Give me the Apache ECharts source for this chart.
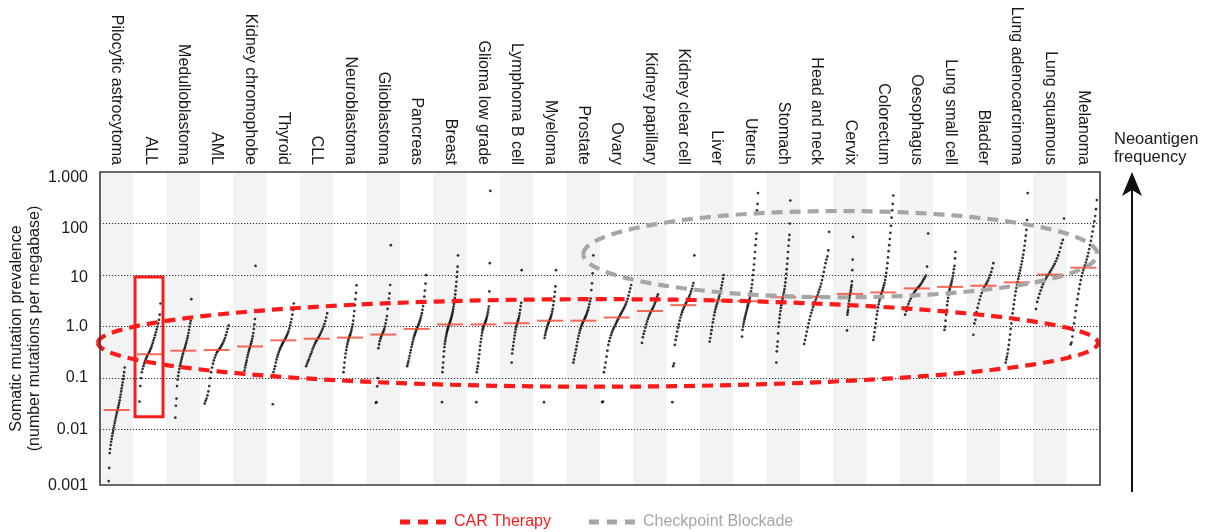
<!DOCTYPE html>
<html><head><meta charset="utf-8">
<script src="https://cdn.jsdelivr.net/npm/echarts@6/dist/echarts.min.js"></script>
<style>html,body{margin:0;padding:0;background:#fff}#c{width:1209px;height:532px}</style>
</head><body><div id="c"></div>
<script>
const categories = ['Pilocytic astrocytoma','ALL','Medulloblastoma','AML','Kidney chromophobe','Thyroid','CLL','Neuroblastoma','Glioblastoma','Pancreas','Breast','Glioma low grade','Lymphoma B cell','Myeloma','Prostate','Ovary','Kidney papillary','Kidney clear cell','Liver','Uterus','Stomach','Head and neck','Cervix','Colorectum','Oesophagus','Lung small cell','Bladder','Lung adenocarcinoma','Lung squamous','Melanoma'];
const medians = [0.024,0.29,0.34,0.35,0.41,0.54,0.58,0.61,0.7,0.9,1.1,1.1,1.16,1.3,1.3,1.5,2.0,2.6,3.2,3.1,3.7,3.8,4.3,4.6,5.5,5.9,6.2,7.2,10.2,13.9];
const yTickLabels = ['0.001','0.01','0.1','1.0','10','100','1.000'];
const legendNames = ['CAR Therapy','Checkpoint Blockade'];

const pilocytic = [0.001,0.0018,0.0035,0.0042,0.005,0.0058,0.0066,0.0075,0.0085,0.0095,0.0107,0.012,0.0135,0.015,0.0167,0.0185,0.0205,0.0225,0.0245,0.027,0.03,0.033,0.037,0.042,0.048,0.055,0.063,0.072,0.082,0.095,0.11,0.13,0.16];
const all = [0.035,0.07,0.1,0.13,0.15,0.17,0.19,0.21,0.23,0.25,0.27,0.29,0.31,0.33,0.36,0.39,0.43,0.48,0.54,0.6,0.68,0.77,0.88,1.0,1.15,1.35,1.7,2.8];
const medulloblastoma = [0.017,0.029,0.04,0.07,0.093,0.11,0.13,0.15,0.17,0.19,0.21,0.235,0.26,0.29,0.32,0.345,0.37,0.4,0.44,0.48,0.53,0.59,0.66,0.75,0.86,1.0,1.15,1.3,3.4];
const aml = [0.032,0.036,0.04,0.046,0.055,0.07,0.1,0.13,0.16,0.19,0.22,0.25,0.28,0.31,0.33,0.35,0.37,0.39,0.42,0.45,0.49,0.54,0.6,0.68,0.78,0.9,1.05];
const kidneyChromophobe = [0.14,0.16,0.18,0.2,0.22,0.25,0.28,0.31,0.34,0.37,0.4,0.43,0.47,0.52,0.58,0.65,0.75,0.9,1.1,1.4,15];
const thyroid = [0.031,0.13,0.15,0.17,0.2,0.23,0.26,0.29,0.32,0.35,0.38,0.41,0.44,0.47,0.5,0.53,0.56,0.6,0.64,0.69,0.75,0.82,0.92,1.05,1.2,1.4,1.7,2.1,2.8];
const cll = [0.17,0.19,0.21,0.23,0.26,0.29,0.32,0.36,0.4,0.44,0.48,0.52,0.56,0.6,0.64,0.69,0.75,0.82,0.9,1.0,1.12,1.28,1.5,1.8];
const neuroblastoma = [0.13,0.16,0.2,0.25,0.3,0.35,0.4,0.45,0.5,0.55,0.6,0.64,0.68,0.73,0.8,0.88,0.98,1.1,1.3,1.6,2.0,2.6,3.4,4.5,6.3];
const glioblastoma = [0.033,0.034,0.069,0.1,0.38,0.45,0.52,0.58,0.63,0.68,0.72,0.77,0.83,0.9,1.0,1.15,1.35,1.6,2.2,2.8,3.5,4.4,6.4,38];
const pancreas = [0.17,0.19,0.21,0.24,0.27,0.31,0.35,0.4,0.45,0.5,0.56,0.62,0.68,0.74,0.8,0.86,0.92,0.98,1.05,1.13,1.22,1.33,1.46,1.62,1.82,2.1,2.5,3.0,3.8,5.0,6.8,10];
const breast = [0.034,0.13,0.16,0.2,0.26,0.33,0.4,0.46,0.52,0.58,0.64,0.7,0.76,0.82,0.88,0.94,1.0,1.05,1.1,1.16,1.22,1.29,1.37,1.46,1.56,1.68,1.82,2.0,2.2,2.45,2.75,3.1,3.6,4.2,5.0,6.0,7.4,9.2,11.5,14.5,24];
const gliomaLowGrade = [0.034,0.13,0.15,0.17,0.2,0.24,0.29,0.35,0.42,0.5,0.58,0.67,0.76,0.85,0.93,1.0,1.06,1.12,1.18,1.25,1.33,1.43,1.55,1.7,1.9,2.15,2.45,4.8,17,430];
const lymphomaB = [0.2,0.3,0.36,0.42,0.5,0.58,0.67,0.77,0.88,0.98,1.08,1.16,1.24,1.33,1.45,1.6,1.8,2.1,2.5,2.9,12.4];
const myeloma = [0.034,0.6,0.68,0.76,0.84,0.92,1.0,1.08,1.16,1.24,1.3,1.38,1.48,1.6,1.75,1.95,2.2,2.6,3.1,3.8,4.7,6.0,12.4];
const prostate = [0.2,0.23,0.27,0.31,0.36,0.42,0.5,0.58,0.66,0.75,0.84,0.93,1.02,1.1,1.18,1.26,1.34,1.42,1.52,1.63,1.76,1.92,2.1,2.35,2.7,3.1,3.5,5.1,6.9,10.8,24];
const ovary = [0.034,0.035,0.13,0.16,0.2,0.26,0.34,0.44,0.52,0.6,0.68,0.76,0.84,0.92,1.0,1.08,1.17,1.27,1.38,1.5,1.62,1.74,1.87,2.0,2.15,2.32,2.52,2.75,3.05,3.45,4.0,4.7,5.5,6.4];
const kidneyPapillary = [0.48,0.62,0.72,0.82,0.95,1.1,1.25,1.4,1.55,1.7,1.85,2.0,2.15,2.3,2.5,2.75,3.0,3.4,3.8,4.2];
const kidneyClearCell = [0.034,0.17,0.19,0.44,0.55,0.65,0.8,0.95,1.1,1.3,1.5,1.7,1.9,2.1,2.3,2.5,2.7,2.9,3.1,3.35,3.6,3.9,4.3,4.8,5.4,6.2,7.0,24];
const liver = [0.51,0.6,0.72,0.85,1.0,1.2,1.4,1.65,1.9,2.15,2.4,2.65,2.9,3.2,3.5,3.85,4.3,4.8,5.5,6.3,7.3,8.5,10];
const uterus = [0.64,0.86,1.0,1.12,1.25,1.38,1.52,1.67,1.83,2.0,2.2,2.4,2.6,2.85,3.1,3.4,3.75,4.2,4.8,5.6,6.6,8,10,12.5,16,21,28,38,50,64,180,240,390];
const stomach = [0.2,0.33,0.41,0.51,0.74,1.0,1.2,1.45,1.7,2.0,2.3,2.6,2.9,3.2,3.5,3.8,4.2,4.7,5.3,6.1,7.2,8.6,10.5,13,16.5,21,28,37,48,60,100,280];
const headNeck = [0.46,0.55,0.66,0.8,0.96,1.15,1.35,1.6,1.85,2.1,2.4,2.7,3.0,3.35,3.7,4.1,4.6,5.2,5.9,6.8,8.0,9.5,11.5,14,17,20,23,30,69];
const cervix = [0.84,1.7,1.9,2.1,2.4,2.8,3.2,3.6,4.0,4.3,4.7,5.2,5.8,6.4,7.5,12.4,20,55];
const colorectum = [0.55,0.64,0.78,0.95,1.15,1.4,1.7,2.0,2.35,2.7,3.05,3.4,3.75,4.1,4.45,4.8,5.2,5.7,6.3,7.0,8.0,9.3,11,13.5,17,22,29,38,50,66,90,130,180,240,350];
const oesophagus = [1.7,2.0,2.4,2.75,3.1,3.45,3.8,4.15,4.5,4.85,5.2,5.5,5.8,6.1,6.5,7.0,7.6,8.3,9.0,9.8,14.6,64];
const lungSmallCell = [0.86,1.0,1.3,1.7,2.1,2.6,3.1,3.6,4.2,4.8,5.3,5.8,6.3,6.9,7.6,8.5,9.6,11,13,15,21,28];
const bladder = [0.69,1.15,1.35,1.9,2.3,2.8,3.3,3.9,4.5,5.1,5.6,6.1,6.6,7.2,7.9,8.8,10,11.5,13.5,17];
const lungAdeno = [0.2,0.23,0.26,0.3,0.36,0.44,0.55,0.7,0.9,1.15,1.45,1.8,2.2,2.7,3.3,4.0,4.8,5.6,6.5,7.4,8.4,9.5,10.8,12.3,14,16,18.5,21.5,25,30,37,46,58,75,117,390];
const lungSquamous = [2.2,3.0,3.6,4.3,5.0,5.8,6.6,7.4,8.2,9.0,9.8,10.6,11.5,12.5,13.7,15,16.5,18.5,21,24,28,34,41,48,125];
const melanoma = [0.27,0.45,0.49,0.64,0.85,1.15,1.5,2.0,2.6,3.4,4.3,5.4,6.6,8.0,9.5,11,12.5,14,15.5,17.5,20,23,27,32,38,46,56,70,88,110,140,190,285];

const samples = [pilocytic,all,medulloblastoma,aml,kidneyChromophobe,thyroid,cll,neuroblastoma,glioblastoma,pancreas,breast,gliomaLowGrade,lymphomaB,myeloma,prostate,ovary,kidneyPapillary,kidneyClearCell,liver,uterus,stomach,headNeck,cervix,colorectum,oesophagus,lungSmallCell,bladder,lungAdeno,lungSquamous,melanoma];

// annotation shapes (in axis coordinates: category index / value)
const carEllipse = [-0.56, 29.44, 3.4, 0.068];
const checkpointEllipse = [14.0, 29.42, 175, 3.7];
const allBox = [0.55, 1.39, 9.2, 0.0178];

// style: horizontal spread of each dot column, in px
const dotSpreadPx = [16,21,16,24,11,21,21,13,15,19,16,14,10,12,20,29,16,22,14,16,14,25,6,20,23,11,20,22,28,27];
// style: downward nudge of each y tick label (px), matching the reference typesetting
const yLabelNudge = [8, 0, 0, 0, 6, 10, 12];

const FONT = '"Liberation Sans", Arial, Helvetica, sans-serif';
const GRID = {left:100, top:172, width:1000, height:313};
const colW = GRID.width / categories.length;

const dots = [];
samples.forEach((arr, i) => {
  const n = arr.length;
  const sp = dotSpreadPx[i] / colW;
  arr.forEach((v, k) => {
    const f = n > 1 ? k / (n - 1) : 0.5;
    dots.push([i + sp * (f - 0.5), v]);
  });
});
const medianData = medians.map((m, i) => [i, m]);

const yRich = {};
yLabelNudge.forEach((p, i) => {
  yRich['n' + i] = {fontSize: 16, color: '#1a1a1a', fontFamily: FONT, padding: [p, 0, 0, 0]};
});

function ellipseRender(color) {
  return function (params, api) {
    const x0 = api.value(0), x1 = api.value(1), yT = api.value(2), yB = api.value(3);
    const L = api.coord([x0, yT]);
    const R = api.coord([x1, yT]);
    const T = api.coord([x0, yT]);
    const B = api.coord([x0, yB]);
    const cx = (L[0] + R[0]) / 2, cy = (T[1] + B[1]) / 2;
    const rx = (R[0] - L[0]) / 2, ry = (B[1] - T[1]) / 2;
    const pts = [];
    for (let k = 0; k <= 160; k++) {
      const t = Math.PI + (k / 160) * Math.PI * 2;
      pts.push([cx + rx * Math.cos(t), cy + ry * Math.sin(t)]);
    }
    return {type: 'polyline', shape: {points: pts}, style: {fill: null, stroke: color, lineWidth: 4.2, lineDash: [11, 7]}};
  };
}
function boxRender(params, api) {
  const a = api.coord([api.value(0), api.value(2)]);
  const b = api.coord([api.value(1), api.value(3)]);
  return {type: 'rect', shape: {x: a[0], y: a[1], width: b[0] - a[0], height: b[1] - a[1]},
    style: {fill: null, stroke: '#ff1a1a', lineWidth: 3}};
}

const chart = echarts.init(document.getElementById('c'));
chart.setOption({
  animation: false,
  backgroundColor: '#fff',
  textStyle: {fontFamily: FONT},
  grid: {left: GRID.left, top: GRID.top, width: GRID.width, height: GRID.height, show: false,
         containLabel: false, outerBoundsMode: 'none'},
  legend: {
    left: 395, top: 509, selectedMode: false, itemWidth: 46, itemHeight: 5, itemGap: 38,
    textStyle: {fontSize: 16, fontFamily: FONT, padding: [0, 0, 0, 3]},
    data: [
      {name: legendNames[0], icon: 'path://M0 0H10V5H0Z M18 0H28V5H18Z M36 0H46V5H36Z', itemStyle: {color: '#ff1a1a'}, textStyle: {color: '#ff1a1a'}},
      {name: legendNames[1], icon: 'path://M0 0H10V5H0Z M18 0H28V5H18Z M36 0H46V5H36Z', itemStyle: {color: '#a6a6a6'}, textStyle: {color: '#a6a6a6'}}
    ]
  },
  xAxis: [
    {type: 'category', data: categories, position: 'top', boundaryGap: true,
     axisLine: {show: false}, axisTick: {show: false},
     axisLabel: {rotate: 90, interval: 0, fontSize: 16, color: '#1a1a1a', margin: 7, fontFamily: FONT},
     splitArea: {show: true, interval: 0, areaStyle: {color: ['#f3f3f3', '#ffffff']}}},
    {type: 'value', min: -0.5, max: 29.5, show: false, position: 'bottom', splitLine: {show: false}}
  ],
  yAxis: {
    type: 'log', logBase: 10, min: 0.00084, max: 1000, splitNumber: 6,
    axisLine: {show: false}, axisTick: {show: false}, splitLine: {show: false},
    axisLabel: {fontSize: 16, color: '#1a1a1a', margin: 12, fontFamily: FONT, rich: yRich,
      formatter: function (v) {
        const l = Math.log10(v); const e = Math.round(l);
        if (Math.abs(l - e) > 0.01) return '';
        const idx = e + 3;
        if (!yTickLabels[idx]) return '';
        return '{n' + idx + '|' + yTickLabels[idx] + '}';
      }},
    name: 'Somatic mutation prevalence\n(number mutations per megabase)',
    nameLocation: 'middle', nameGap: 56, nameRotate: 90, nameMoveOverlap: false,
    nameTextStyle: {fontSize: 16, color: '#1a1a1a', lineHeight: 18, fontFamily: FONT}
  },
  series: [
    {name: 'grid', type: 'scatter', xAxisIndex: 1, data: [[0, 1]], symbolSize: 0, silent: true, z: 1,
     markLine: {silent: true, symbol: ['none', 'none'], label: {show: false},
       lineStyle: {color: '#333', width: 1, type: [1.2, 1.8]},
       data: [{yAxis: 0.01}, {yAxis: 0.1}, {yAxis: 1}, {yAxis: 10}, {yAxis: 100}]}},
    {name: 'samples', type: 'scatter', xAxisIndex: 1, data: dots, symbolSize: 2.7,
     itemStyle: {color: '#000'}, silent: true, z: 2},
    {name: 'median', type: 'scatter', xAxisIndex: 1, data: medianData, symbol: 'rect', symbolSize: [26, 2],
     itemStyle: {color: '#f2452e'}, silent: true, z: 3},
    {name: 'ALL box', type: 'custom', xAxisIndex: 1, data: [allBox], renderItem: boxRender, silent: true, z: 4},
    {name: legendNames[0], type: 'custom', xAxisIndex: 1, data: [carEllipse], renderItem: ellipseRender('#ff1a1a'),
     itemStyle: {color: '#ff1a1a'}, silent: true, z: 5},
    {name: legendNames[1], type: 'custom', xAxisIndex: 1, data: [checkpointEllipse], renderItem: ellipseRender('#a6a6a6'),
     itemStyle: {color: '#a6a6a6'}, silent: true, z: 5}
  ],
  graphic: [
    {type: 'rect', z: 100, silent: true, shape: {x: GRID.left, y: GRID.top, width: GRID.width, height: GRID.height},
     style: {fill: null, stroke: '#3a3a3a', lineWidth: 1.6}},
    {type: 'line', z: 100, silent: true, shape: {x1: 1132, y1: 492, x2: 1132, y2: 188}, style: {stroke: '#111', lineWidth: 2}},
    {type: 'polygon', z: 100, silent: true, shape: {points: [[1132, 172], [1142, 196], [1132, 190], [1122, 196]]}, style: {fill: '#111'}},
    {type: 'text', z: 100, silent: true, left: 1114, top: 130,
     style: {text: 'Neoantigen\nfrequency', font: '16.5px ' + FONT, fill: '#1a1a1a', lineHeight: 18}}
  ]
});
</script></body></html>
